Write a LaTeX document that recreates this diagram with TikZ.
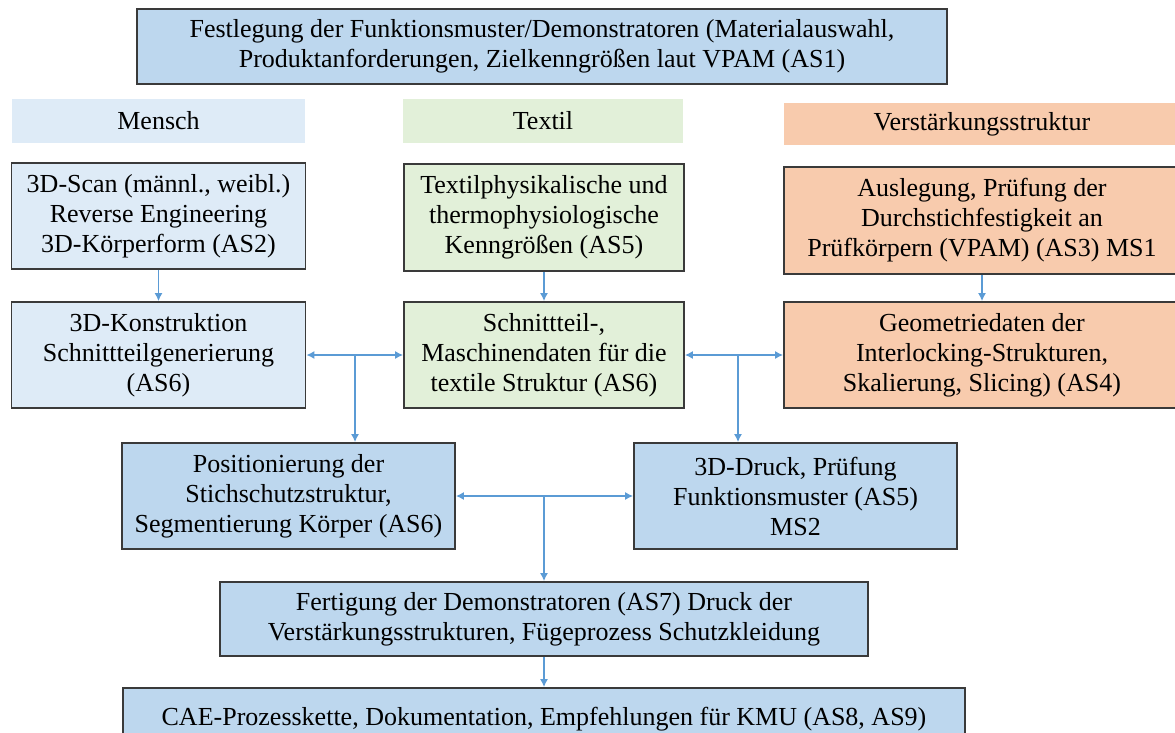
\documentclass[tikz,border=0pt]{standalone}
\usepackage{fontspec}
\setmainfont{Liberation Serif}
\usetikzlibrary{arrows.meta}
\definecolor{blueA}{HTML}{BDD7EE}
\definecolor{blueB}{HTML}{DEEBF7}
\definecolor{greenA}{HTML}{E2F0D9}
\definecolor{orangeA}{HTML}{F8CBAD}
\definecolor{edgec}{HTML}{3A3A3A}
\definecolor{connc}{HTML}{5B9BD5}
\begin{document}
\begin{tikzpicture}[x=1pt,y=-1pt,
  every node/.style={font=\fontsize{26}{30}\selectfont, align=center, inner sep=0pt},
  box/.style={draw=edgec, line width=1.8pt},
  hdr/.style={draw=none},
  conn/.style={draw=connc, line width=1.4pt, -{Latex[length=8pt,width=8pt]}},
  connboth/.style={draw=connc, line width=1.4pt, {Latex[length=8pt,width=8pt]}-{Latex[length=8pt,width=8pt]}},
]
\useasboundingbox (0,0) rectangle (1175,733);
\clip (0,0) rectangle (1175,733);
\fill[white] (0,0) rectangle (1175,733);

\node[box, fill=blueA, minimum width=810pt, minimum height=75pt] (top) at (542,46.5)
  {Festlegung der Funktionsmuster/Demonstratoren (Materialauswahl,\\Produktanforderungen, Zielkenngrößen laut VPAM (AS1)};

\node[hdr, fill=blueB, minimum width=293pt, minimum height=44pt] (mensch) at (158.5,121) {Mensch};
\node[hdr, fill=greenA, minimum width=280pt, minimum height=44pt] (textil) at (543,121) {Textil};
\node[hdr, fill=orangeA, minimum width=396pt, minimum height=42pt] (verst) at (982,124) {Verstärkungsstruktur};

\node[box, fill=blueB, minimum width=294pt, minimum height=106pt] (scan) at (158.5,216)
  {3D-Scan (männl., weibl.)\\Reverse Engineering\\3D-Körperform (AS2)};
\node[box, fill=greenA, minimum width=280pt, minimum height=107pt] (tphys) at (544,217.5)
  {Textilphysikalische und\\thermophysiologische\\Kenngrößen (AS5)};
\node[box, fill=orangeA, minimum width=396pt, minimum height=107pt] (ausl) at (982,220.5)
  {Auslegung, Prüfung der\\Durchstichfestigkeit an\\Prüfkörpern (VPAM) (AS3) MS1};

\node[box, fill=blueB, minimum width=294pt, minimum height=106pt] (konstr) at (158.5,355)
  {3D-Konstruktion\\Schnittteilgenerierung\\(AS6)};
\node[box, fill=greenA, minimum width=280pt, minimum height=106pt] (schnitt) at (544,355)
  {Schnittteil-,\\Maschinendaten für die\\textile Struktur (AS6)};
\node[box, fill=orangeA, minimum width=396pt, minimum height=106pt] (geo) at (982,355)
  {Geometriedaten der\\Interlocking-Strukturen,\\Skalierung, Slicing) (AS4)};

\node[box, fill=blueA, minimum width=333pt, minimum height=106pt] (pos) at (288.5,496)
  {Positionierung der\\Stichschutzstruktur,\\Segmentierung Körper (AS6)};
\node[box, fill=blueA, minimum width=323pt, minimum height=106pt] (druck) at (795.5,496)
  {3D-Druck, Prüfung\\Funktionsmuster (AS5)\\MS2};

\node[box, fill=blueA, minimum width=648pt, minimum height=74pt] (fert) at (544,619)
  {Fertigung der Demonstratoren (AS7) Druck der\\Verstärkungsstrukturen, Fügeprozess Schutzkleidung};
\node[box, fill=blueA, minimum width=842pt, minimum height=62pt] (cae) at (544,719)
  {CAE-Prozesskette, Dokumentation, Empfehlungen für KMU (AS8, AS9)};

\draw[conn] (scan.south) -- (konstr.north);
\draw[conn] (tphys.south) -- (schnitt.north);
\draw[conn] (ausl.south) -- (geo.north);

\draw[connboth] (konstr.east) -- (schnitt.west);
\coordinate (j1) at (355,355);
\draw[conn] (j1) -- (j1 |- pos.north);

\draw[connboth] (schnitt.east) -- (geo.west);
\coordinate (j2) at (738,355);
\draw[conn] (j2) -- (j2 |- druck.north);

\draw[connboth] (pos.east) -- (druck.west);
\coordinate (j3) at (544,496);
\draw[conn] (j3) -- (j3 |- fert.north);

\draw[conn] (fert.south) -- (cae.north);
\end{tikzpicture}
\end{document}
